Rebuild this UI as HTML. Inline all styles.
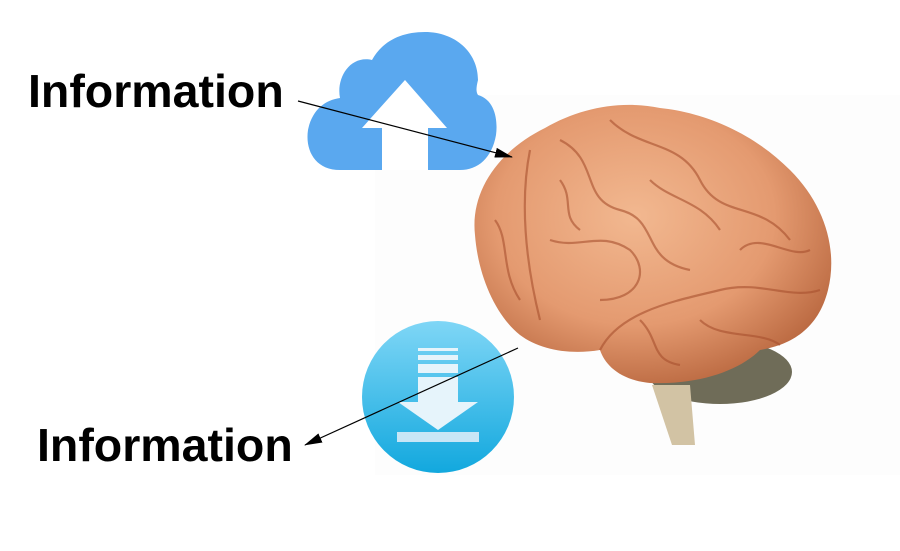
<!DOCTYPE html>
<html><head><meta charset="utf-8"><style>
html,body{margin:0;padding:0;background:#fff;}
body{width:900px;height:551px;position:relative;overflow:hidden;font-family:"Liberation Sans",sans-serif;}
.t{position:absolute;font-weight:bold;font-size:46.5px;color:#000;line-height:1;}
</style></head><body>
<svg width="900" height="551" style="position:absolute;left:0;top:0">
<defs>
<radialGradient id="br" cx="0.45" cy="0.4" r="0.65">
<stop offset="0" stop-color="#f2b890"/><stop offset="0.6" stop-color="#e49a70"/><stop offset="1" stop-color="#b8663e"/></radialGradient>
<linearGradient id="dl" x1="0" y1="0" x2="0" y2="1">
<stop offset="0" stop-color="#7fd6f6"/><stop offset="1" stop-color="#12a8de"/></linearGradient>
<marker id="ah2" markerWidth="18" markerHeight="10" refX="17" refY="5" orient="auto" markerUnits="userSpaceOnUse"><path d="M0,0 L18,5 L0,10Z" fill="#000"/></marker>
</defs>
<rect x="375" y="95" width="525" height="380" fill="#fdfdfd"/>
<!-- cerebellum -->
<ellipse cx="720" cy="372" rx="72" ry="32" fill="#6f6c58"/>
<path d="M652,385 L690,385 L695,445 L672,445Z" fill="#d2c3a4"/>
<!-- brain -->
<path d="M475,235 C470,190 500,150 545,128 C580,108 620,100 660,108 C700,112 750,130 790,170 C825,205 838,250 828,290 C818,330 790,345 760,350 C740,370 700,385 650,383 C620,380 605,365 600,350 C570,355 540,350 520,335 C495,315 478,275 475,235Z" fill="url(#br)"/>
<g fill="none" stroke="#a8502e" stroke-width="2.2" opacity="0.6">
<path d="M530,150 C520,200 525,260 540,320"/>
<path d="M560,140 C600,160 580,200 620,210 C660,220 640,260 690,270"/>
<path d="M600,350 C620,310 680,300 720,290 C760,280 790,300 820,290"/>
<path d="M610,120 C640,150 680,140 700,180 C720,220 760,200 790,240"/>
<path d="M550,240 C580,250 600,230 630,250 C650,270 640,300 600,300"/>
<path d="M700,320 C720,340 760,330 780,345"/>
<path d="M650,180 C670,200 700,200 720,230"/>
<path d="M495,220 C510,240 500,270 520,300"/>
<path d="M740,250 C760,230 790,260 810,250"/>
<path d="M560,180 C575,200 560,215 580,230"/>
<path d="M640,320 C660,340 650,360 680,365"/>
</g>
<!-- cloud -->
<path d="M340,170 C315,170 305,150 308,130 C312,110 325,100 340,98 C336,78 350,55 372,60 C382,42 400,32 425,32 C455,32 478,52 478,80 C476,88 476,92 478,95 C495,100 498,120 496,135 C492,158 478,170 460,170Z" fill="#5aa8ef"/>
<path d="M405,80 L447,128 L428,128 L428,170 L382,170 L382,128 L362,128Z" fill="#fff"/>
<line x1="298" y1="101" x2="512" y2="157" stroke="#000" stroke-width="1.2" marker-end="url(#ah2)"/>
<!-- download -->
<circle cx="438" cy="397" r="76" fill="url(#dl)"/>
<rect x="418" y="348" width="40" height="3" fill="#e6f4fb"/>
<rect x="418" y="355" width="40" height="5" fill="#e6f4fb"/>
<rect x="418" y="364" width="40" height="9" fill="#e6f4fb"/>
<path d="M418,377 L458,377 L458,402 L478,402 L438,430 L398,402 L418,402Z" fill="#e6f4fb"/>
<rect x="397" y="432" width="82" height="10" fill="#c8e6f6"/>
<line x1="518" y1="348" x2="305" y2="445" stroke="#000" stroke-width="1.2" marker-end="url(#ah2)"/>
</svg>
<div class="t" style="left:28px;top:68px">Information</div>
<div class="t" style="left:37px;top:422px">Information</div>
</body></html>
